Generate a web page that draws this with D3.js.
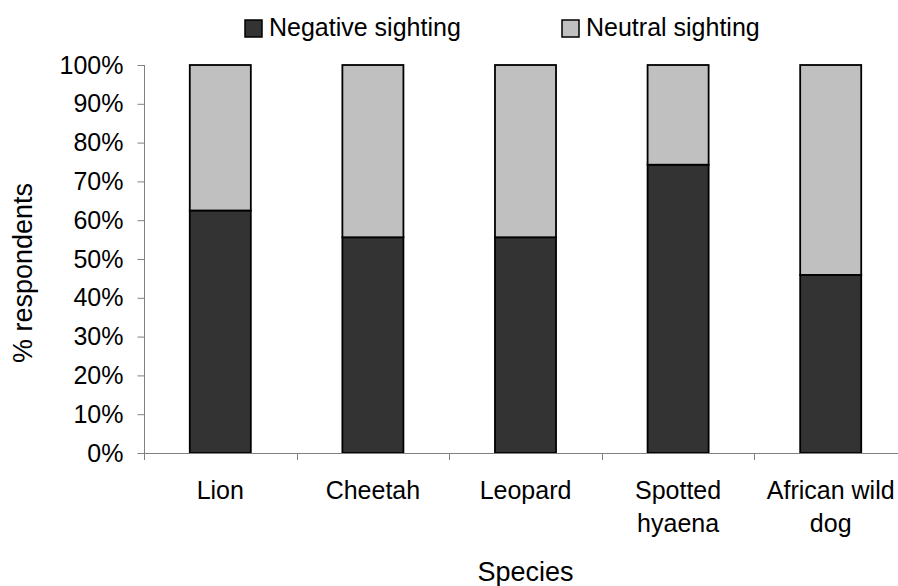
<!DOCTYPE html>
<html>
<head>
<meta charset="utf-8">
<script src="https://cdn.jsdelivr.net/npm/d3@7/dist/d3.min.js"></script>
<style>
  html, body { margin: 0; padding: 0; background: #fff; }
  svg { display: block; }
  text { font-family: "Liberation Sans", Arial, sans-serif; fill: #000; }
</style>
</head>
<body>
<svg id="chart" width="898" height="586"></svg>
<script>
// Share of respondents by type of sighting, per carnivore species (%)
const categories = ["Lion", "Cheetah", "Leopard", "Spotted hyaena", "African wild dog"];
const categoryLines = [["Lion"], ["Cheetah"], ["Leopard"], ["Spotted", "hyaena"], ["African wild", "dog"]];
const negative = [62.5, 55.6, 55.6, 74.3, 45.9];
const neutral = [37.5, 44.4, 44.4, 25.7, 54.1];
const seriesNames = ["Negative sighting", "Neutral sighting"];
const seriesColors = ["#333333", "#c0c0c0"];
const yTicks = [0, 10, 20, 30, 40, 50, 60, 70, 80, 90, 100];
const xTitle = "Species";
const yTitle = "% respondents";

const svg = d3.select("#chart");
const axisColor = "#808080";
const fontSize = 25;
const titleSize = 27;

const plotLeft = 144, plotRight = 907, plotTop = 65, plotBottom = 453;

const rows = categories.map((c, i) => ({ species: c, neg: negative[i], neu: neutral[i] }));
const stacked = d3.stack().keys(["neg", "neu"])(rows);

const x = d3.scaleBand()
  .domain(categories)
  .range([plotLeft, plotRight])
  .paddingInner(0.6)
  .paddingOuter(0.3);

const y = d3.scaleLinear().domain([0, 100]).range([plotBottom, plotTop]);

// Stacked bars
svg.append("g")
  .selectAll("g")
  .data(stacked)
  .join("g")
  .attr("fill", (d, i) => seriesColors[i])
  .selectAll("rect")
  .data(d => d)
  .join("rect")
  .attr("x", d => x(d.data.species))
  .attr("width", x.bandwidth())
  .attr("y", d => y(d[1]))
  .attr("height", d => y(d[0]) - y(d[1]))
  .attr("stroke", "#000")
  .attr("stroke-width", 1.8);

// Y axis
const yAxis = svg.append("g")
  .attr("transform", `translate(${plotLeft + 0.5},0)`)
  .call(d3.axisLeft(y).tickValues(yTicks).tickFormat(d => d + "%").tickSize(7).tickPadding(14));
yAxis.select(".domain").remove();
yAxis.selectAll(".tick line").attr("stroke", axisColor);
yAxis.selectAll(".tick text")
  .style("font-size", fontSize + "px")
  .style("font-family", '"Liberation Sans", Arial, sans-serif')
  .attr("fill", "#000");
// vertical axis line, running down to the x tick length
yAxis.append("line")
  .attr("x1", 0).attr("x2", 0)
  .attr("y1", y(100)).attr("y2", plotBottom + 7)
  .attr("stroke", axisColor);

// X axis: line plus ticks at the category boundaries
const xAxis = svg.append("g");
xAxis.append("line")
  .attr("x1", plotLeft).attr("x2", plotRight)
  .attr("y1", plotBottom + 0.5).attr("y2", plotBottom + 0.5)
  .attr("stroke", axisColor);
const boundaries = categories.map(c => x(c) - x.step() * x.paddingOuter()).slice(1);
xAxis.selectAll("line.bt")
  .data(boundaries)
  .join("line")
  .attr("class", "bt")
  .attr("x1", d => Math.round(d) + 0.5).attr("x2", d => Math.round(d) + 0.5)
  .attr("y1", plotBottom).attr("y2", plotBottom + 7)
  .attr("stroke", axisColor);

// Category labels
const labels = svg.append("g")
  .selectAll("text")
  .data(categories)
  .join("text")
  .attr("x", d => x(d) + x.bandwidth() / 2)
  .attr("y", 499)
  .attr("text-anchor", "middle")
  .style("font-size", fontSize + "px");
labels.each(function (d, i) {
  d3.select(this).selectAll("tspan")
    .data(categoryLines[i])
    .join("tspan")
    .attr("x", x(d) + x.bandwidth() / 2)
    .attr("dy", (t, j) => j === 0 ? 0 : 32.5)
    .text(t => t);
});

// Axis titles
svg.append("text")
  .attr("x", (plotLeft + plotRight) / 2)
  .attr("y", 581)
  .attr("text-anchor", "middle")
  .style("font-size", titleSize + "px")
  .text(xTitle);

svg.append("text")
  .attr("transform", `translate(32,273) rotate(-90)`)
  .attr("text-anchor", "middle")
  .style("font-size", titleSize + "px")
  .text(yTitle);

// Legend
const legendX = [245, 562];
const legend = svg.append("g")
  .selectAll("g")
  .data(seriesNames)
  .join("g")
  .attr("transform", (d, i) => `translate(${legendX[i]},20)`);
legend.append("rect")
  .attr("width", 17).attr("height", 17)
  .attr("fill", (d, i) => seriesColors[i])
  .attr("stroke", "#000")
  .attr("stroke-width", 1.5);
legend.append("text")
  .attr("x", 24)
  .attr("y", 16)
  .style("font-size", fontSize + "px")
  .text(d => d);
</script>
</body>
</html>
